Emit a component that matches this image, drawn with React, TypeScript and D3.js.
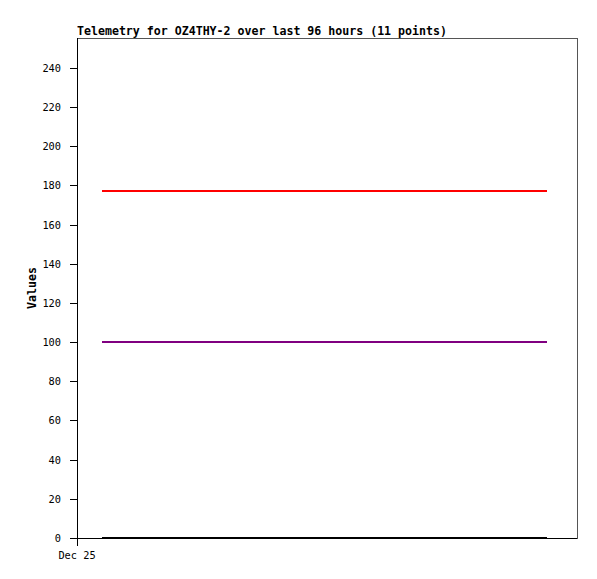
import React from "react";
import * as d3 from "d3";

const hours = [4.8, 13.3, 21.9, 30.4, 39.0, 47.5, 56.0, 64.6, 73.1, 81.7, 90.2];
const redValues = [177, 177, 177, 177, 177, 177, 177, 177, 177, 177, 177];
const purpleValues = [100, 100, 100, 100, 100, 100, 100, 100, 100, 100, 100];
const blackValues = [0, 0, 0, 0, 0, 0, 0, 0, 0, 0, 0];
const yTicks = [0, 20, 40, 60, 80, 100, 120, 140, 160, 180, 200, 220, 240];
const xTickLabels = ["Dec 25"];
const title = "Telemetry for OZ4THY-2 over last 96 hours (11 points)";

const W = 597, H = 579;
const L = 77, R = 577, T = 38, B = 538;

export default function App() {
  const x = d3.scaleLinear().domain([0, 96]).range([L, R]);
  const y = d3.scaleLinear().domain([0, 255.3]).range([B, T]);
  const line = (vals: number[]) =>
    d3.line<number>().x((_, i) => x(hours[i])).y((v) => y(v))(vals) || "";
  const series = [
    { vals: redValues, color: "#ff0000" },
    { vals: purpleValues, color: "#800080" },
    { vals: blackValues, color: "#000000" },
  ];
  const mono = "'DejaVu Sans Mono', 'Liberation Mono', monospace";
  return (
    <svg width={W} height={H} style={{ position: "absolute", left: 0, top: 0, background: "#fff" }}>
      <rect x={0} y={0} width={W} height={H} fill="#fff" />
      <rect x={L + 0.5} y={T + 0.5} width={R - L} height={B - T} fill="none" stroke="#555" strokeWidth={1} shapeRendering="crispEdges" />
      {series.map((s, i) => (
        <path key={i} d={line(s.vals)} fill="none" stroke={s.color} strokeWidth={2} shapeRendering="crispEdges" />
      ))}
      <line x1={L + 0.5} x2={L + 0.5} y1={T} y2={B + 8} stroke="#000" shapeRendering="crispEdges" />
      <line x1={L} x2={R} y1={B + 0.5} y2={B + 0.5} stroke="#000" shapeRendering="crispEdges" />
      {yTicks.map((t) => (
        <g key={t}>
          <line x1={L - 7} x2={L} y1={Math.round(y(t)) + 0.5} y2={Math.round(y(t)) + 0.5} stroke="#000" shapeRendering="crispEdges" />
          <text x={L - 16} y={Math.round(y(t)) + 4} textAnchor="end" fontFamily={mono} fontSize={10.3} fill="#000">
            {t}
          </text>
        </g>
      ))}
      {xTickLabels.map((lab, i) => (
        <text key={i} x={x(0)} y={559} textAnchor="middle" fontFamily={mono} fontSize={10.3} fill="#000">
          {lab}
        </text>
      ))}
      <text x={L} y={35} fontFamily={mono} fontSize={11.6} fontWeight="bold" fill="#000">
        {title}
      </text>
      <text
        transform={`translate(36, ${(T + B) / 2}) rotate(-90)`}
        textAnchor="middle"
        fontFamily={mono}
        fontSize={11.6}
        fontWeight="bold"
        fill="#000"
      >
        Values
      </text>
    </svg>
  );
}
